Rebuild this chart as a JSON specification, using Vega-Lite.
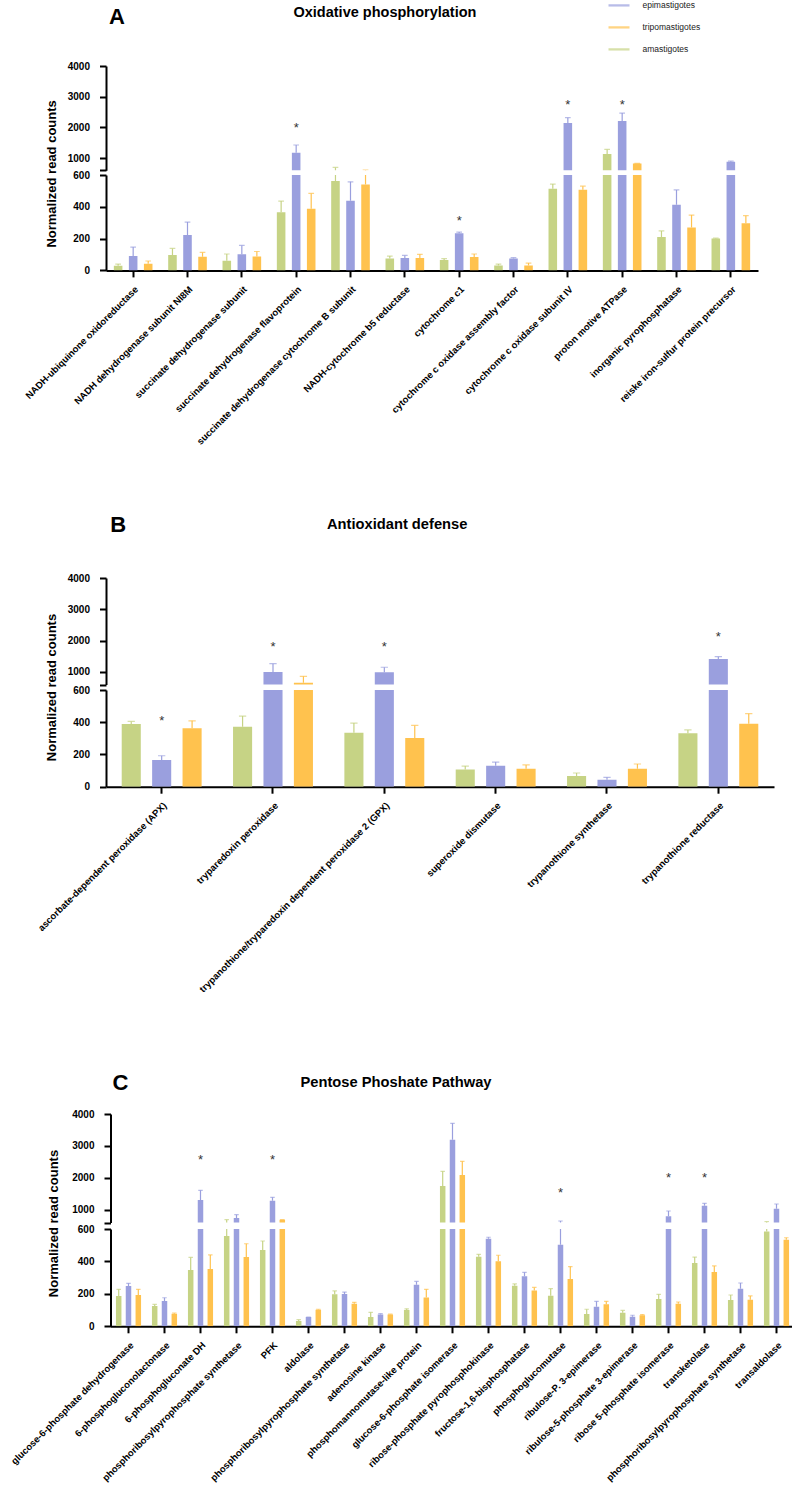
{
  "$schema": "https://vega.github.io/schema/vega-lite/v6.json",
  "padding": {"left": 8, "top": 0, "right": 0, "bottom": 0},
  "background": "white",
  "autosize": {"type": "pad"},
  "config": {
    "font": "Liberation Sans",
    "view": {"stroke": null},
    "axis": {"domainColor": "#000", "domainWidth": 2, "tickColor": "#000", "tickWidth": 2, "tickSize": 6.5, "labelColor": "#000", "labelFont": "Liberation Sans", "labelFontWeight": "bold", "labelFontSize": 10, "grid": false, "titleFont": "Liberation Sans", "titleFontWeight": "bold", "titleFontSize": 13, "titleColor": "#000"},
    "axisX": {"labelAngle": -45, "labelFontSize": 9.5, "labelPadding": 7, "labelLimit": 400},
    "axisY": {"labelPadding": 10},
    "legend": {"orient": "none", "legendX": 508, "legendY": -65.6, "symbolType": "M-2.1,-0.23L2.1,-0.23L2.1,0.23L-2.1,0.23Z", "symbolSize": 100, "symbolStrokeWidth": 0, "labelFontSize": 8.5, "labelFont": "Liberation Sans", "labelColor": "#222", "rowPadding": 12, "labelOffset": 18.5},
    "title": {"font": "Liberation Sans", "fontWeight": "bold", "color": "#000", "frame": "group", "anchor": "start", "baseline": "alphabetic"}
  },
  "resolve": {"scale": {"x": "independent", "xOffset": "independent", "y": "independent"}, "axis": {"x": "independent", "y": "independent"}},
  "datasets": {
    "A": [
      {"g": "01|NADH-ubiquinone oxidoreductase", "s": "amastigotes", "v": 30, "e": 40},
      {"g": "01|NADH-ubiquinone oxidoreductase", "s": "epimastigotes", "v": 90, "e": 147},
      {"g": "01|NADH-ubiquinone oxidoreductase", "s": "tripomastigotes", "v": 42, "e": 59},
      {"g": "02|NADH dehydrogenase subunit NI8M", "s": "amastigotes", "v": 97, "e": 138},
      {"g": "02|NADH dehydrogenase subunit NI8M", "s": "epimastigotes", "v": 222, "e": 304},
      {"g": "02|NADH dehydrogenase subunit NI8M", "s": "tripomastigotes", "v": 86, "e": 113},
      {"g": "03|succinate dehydrogenase subunit", "s": "amastigotes", "v": 61, "e": 103},
      {"g": "03|succinate dehydrogenase subunit", "s": "epimastigotes", "v": 101, "e": 157},
      {"g": "03|succinate dehydrogenase subunit", "s": "tripomastigotes", "v": 87, "e": 119},
      {"g": "04|succinate dehydrogenase flavoprotein", "s": "amastigotes", "v": 365, "e": 436},
      {"g": "04|succinate dehydrogenase flavoprotein", "s": "epimastigotes", "v": 1173, "e": 1424, "star": 2076},
      {"g": "04|succinate dehydrogenase flavoprotein", "s": "tripomastigotes", "v": 388, "e": 484},
      {"g": "05|succinate dehydrogenase cytochrome B subunit", "s": "amastigotes", "v": 562, "e": 695},
      {"g": "05|succinate dehydrogenase cytochrome B subunit", "s": "epimastigotes", "v": 438, "e": 557},
      {"g": "05|succinate dehydrogenase cytochrome B subunit", "s": "tripomastigotes", "v": 541, "e": 610},
      {"g": "06|NADH-cytochrome b5 reductase", "s": "amastigotes", "v": 75, "e": 90},
      {"g": "06|NADH-cytochrome b5 reductase", "s": "epimastigotes", "v": 78, "e": 94},
      {"g": "06|NADH-cytochrome b5 reductase", "s": "tripomastigotes", "v": 78, "e": 101},
      {"g": "07|cytochrome c1", "s": "amastigotes", "v": 65, "e": 74},
      {"g": "07|cytochrome c1", "s": "epimastigotes", "v": 233, "e": 241, "star": 330},
      {"g": "07|cytochrome c1", "s": "tripomastigotes", "v": 84, "e": 103},
      {"g": "08|cytochrome c oxidase assembly factor", "s": "amastigotes", "v": 31, "e": 40},
      {"g": "08|cytochrome c oxidase assembly factor", "s": "epimastigotes", "v": 75, "e": 80},
      {"g": "08|cytochrome c oxidase assembly factor", "s": "tripomastigotes", "v": 31, "e": 46},
      {"g": "09|cytochrome c oxidase subunit IV", "s": "amastigotes", "v": 513, "e": 543},
      {"g": "09|cytochrome c oxidase subunit IV", "s": "epimastigotes", "v": 2141, "e": 2314, "star": 2835},
      {"g": "09|cytochrome c oxidase subunit IV", "s": "tripomastigotes", "v": 507, "e": 530},
      {"g": "10|proton motive ATPase", "s": "amastigotes", "v": 1130, "e": 1280},
      {"g": "10|proton motive ATPase", "s": "epimastigotes", "v": 2206, "e": 2467, "star": 2835},
      {"g": "10|proton motive ATPase", "s": "tripomastigotes", "v": 824, "e": 824},
      {"g": "11|inorganic pyrophosphatase", "s": "amastigotes", "v": 210, "e": 248},
      {"g": "11|inorganic pyrophosphatase", "s": "epimastigotes", "v": 413, "e": 506},
      {"g": "11|inorganic pyrophosphatase", "s": "tripomastigotes", "v": 270, "e": 348},
      {"g": "12|reiske iron-sulfur protein precursor", "s": "amastigotes", "v": 201, "e": 203},
      {"g": "12|reiske iron-sulfur protein precursor", "s": "epimastigotes", "v": 879, "e": 902},
      {"g": "12|reiske iron-sulfur protein precursor", "s": "tripomastigotes", "v": 296, "e": 344}
    ],
    "B": [
      {"g": "1|ascorbate-dependent peroxidase (APX)", "s": "amastigotes", "v": 389, "e": 405},
      {"g": "1|ascorbate-dependent peroxidase (APX)", "s": "epimastigotes", "v": 166, "e": 192, "star": 428},
      {"g": "1|ascorbate-dependent peroxidase (APX)", "s": "tripomastigotes", "v": 362, "e": 409},
      {"g": "2|tryparedoxin peroxidase", "s": "amastigotes", "v": 372, "e": 438},
      {"g": "2|tryparedoxin peroxidase", "s": "epimastigotes", "v": 1000, "e": 1265, "star": 1904},
      {"g": "2|tryparedoxin peroxidase", "s": "tripomastigotes", "v": 657, "e": 862},
      {"g": "3|trypanothione/tryparedoxin dependent peroxidase 2 (GPX)", "s": "amastigotes", "v": 335, "e": 395},
      {"g": "3|trypanothione/tryparedoxin dependent peroxidase 2 (GPX)", "s": "epimastigotes", "v": 990, "e": 1150, "star": 1904},
      {"g": "3|trypanothione/tryparedoxin dependent peroxidase 2 (GPX)", "s": "tripomastigotes", "v": 302, "e": 380},
      {"g": "4|superoxide dismutase", "s": "amastigotes", "v": 107, "e": 128},
      {"g": "4|superoxide dismutase", "s": "epimastigotes", "v": 130, "e": 153},
      {"g": "4|superoxide dismutase", "s": "tripomastigotes", "v": 112, "e": 135},
      {"g": "5|trypanothione synthetase", "s": "amastigotes", "v": 66, "e": 85},
      {"g": "5|trypanothione synthetase", "s": "epimastigotes", "v": 43, "e": 58},
      {"g": "5|trypanothione synthetase", "s": "tripomastigotes", "v": 112, "e": 141},
      {"g": "6|trypanothione reductase", "s": "amastigotes", "v": 331, "e": 352},
      {"g": "6|trypanothione reductase", "s": "epimastigotes", "v": 1415, "e": 1489, "star": 2224},
      {"g": "6|trypanothione reductase", "s": "tripomastigotes", "v": 391, "e": 453}
    ],
    "C": [
      {"g": "01|glucose-6-phosphate dehydrogenase", "s": "amastigotes", "v": 187, "e": 228},
      {"g": "01|glucose-6-phosphate dehydrogenase", "s": "epimastigotes", "v": 248, "e": 265},
      {"g": "01|glucose-6-phosphate dehydrogenase", "s": "tripomastigotes", "v": 193, "e": 228},
      {"g": "02|6-phosphogluconolactonase", "s": "amastigotes", "v": 125, "e": 135},
      {"g": "02|6-phosphogluconolactonase", "s": "epimastigotes", "v": 156, "e": 176},
      {"g": "02|6-phosphogluconolactonase", "s": "tripomastigotes", "v": 78, "e": 82},
      {"g": "03|6-phosphogluconate DH", "s": "amastigotes", "v": 347, "e": 425},
      {"g": "03|6-phosphogluconate DH", "s": "epimastigotes", "v": 1304, "e": 1608, "star": 2662},
      {"g": "03|6-phosphogluconate DH", "s": "tripomastigotes", "v": 353, "e": 440},
      {"g": "04|phosphoribosylpyrophosphate synthetase", "s": "amastigotes", "v": 557, "e": 688},
      {"g": "04|phosphoribosylpyrophosphate synthetase", "s": "epimastigotes", "v": 741, "e": 845},
      {"g": "04|phosphoribosylpyrophosphate synthetase", "s": "tripomastigotes", "v": 427, "e": 509},
      {"g": "05|PFK", "s": "amastigotes", "v": 470, "e": 526},
      {"g": "05|PFK", "s": "epimastigotes", "v": 1282, "e": 1389, "star": 2662},
      {"g": "05|PFK", "s": "tripomastigotes", "v": 688, "e": 688},
      {"g": "06|aldolase", "s": "amastigotes", "v": 33, "e": 41},
      {"g": "06|aldolase", "s": "epimastigotes", "v": 57, "e": 57},
      {"g": "06|aldolase", "s": "tripomastigotes", "v": 102, "e": 105},
      {"g": "07|phosphoribosylpyrophosphate synthetase", "s": "amastigotes", "v": 197, "e": 218},
      {"g": "07|phosphoribosylpyrophosphate synthetase", "s": "epimastigotes", "v": 199, "e": 211},
      {"g": "07|phosphoribosylpyrophosphate synthetase", "s": "tripomastigotes", "v": 139, "e": 148},
      {"g": "08|adenosine kinase", "s": "amastigotes", "v": 57, "e": 86},
      {"g": "08|adenosine kinase", "s": "epimastigotes", "v": 72, "e": 78},
      {"g": "08|adenosine kinase", "s": "tripomastigotes", "v": 72, "e": 75},
      {"g": "09|phosphomannomutase-like protein", "s": "amastigotes", "v": 100, "e": 108},
      {"g": "09|phosphomannomutase-like protein", "s": "epimastigotes", "v": 256, "e": 277},
      {"g": "09|phosphomannomutase-like protein", "s": "tripomastigotes", "v": 177, "e": 228},
      {"g": "10|glucose-6-phosphate isomerase", "s": "amastigotes", "v": 1743, "e": 2204},
      {"g": "10|glucose-6-phosphate isomerase", "s": "epimastigotes", "v": 3195, "e": 3709},
      {"g": "10|glucose-6-phosphate isomerase", "s": "tripomastigotes", "v": 2088, "e": 2517},
      {"g": "11|ribose-phosphate pyrophosphokinase", "s": "amastigotes", "v": 429, "e": 444},
      {"g": "11|ribose-phosphate pyrophosphokinase", "s": "epimastigotes", "v": 540, "e": 549},
      {"g": "11|ribose-phosphate pyrophosphokinase", "s": "tripomastigotes", "v": 401, "e": 438},
      {"g": "12|fructose-1,6-bisphosphatase", "s": "amastigotes", "v": 250, "e": 261},
      {"g": "12|fructose-1,6-bisphosphatase", "s": "epimastigotes", "v": 308, "e": 333},
      {"g": "12|fructose-1,6-bisphosphatase", "s": "tripomastigotes", "v": 220, "e": 240},
      {"g": "13|phosphoglucomutase", "s": "amastigotes", "v": 189, "e": 232},
      {"g": "13|phosphoglucomutase", "s": "epimastigotes", "v": 503, "e": 647, "star": 1618},
      {"g": "13|phosphoglucomutase", "s": "tripomastigotes", "v": 292, "e": 368},
      {"g": "14|ribulose-P. 3-epimerase", "s": "amastigotes", "v": 76, "e": 105},
      {"g": "14|ribulose-P. 3-epimerase", "s": "epimastigotes", "v": 121, "e": 154},
      {"g": "14|ribulose-P. 3-epimerase", "s": "tripomastigotes", "v": 136, "e": 154},
      {"g": "15|ribulose-5-phosphate 3-epimerase", "s": "amastigotes", "v": 84, "e": 98},
      {"g": "15|ribulose-5-phosphate 3-epimerase", "s": "epimastigotes", "v": 59, "e": 68},
      {"g": "15|ribulose-5-phosphate 3-epimerase", "s": "tripomastigotes", "v": 68, "e": 72},
      {"g": "16|ribose 5-phosphate isomerase", "s": "amastigotes", "v": 168, "e": 197},
      {"g": "16|ribose 5-phosphate isomerase", "s": "epimastigotes", "v": 794, "e": 960, "star": 2088},
      {"g": "16|ribose 5-phosphate isomerase", "s": "tripomastigotes", "v": 139, "e": 150},
      {"g": "17|transketolase", "s": "amastigotes", "v": 390, "e": 427},
      {"g": "17|transketolase", "s": "epimastigotes", "v": 1125, "e": 1200, "star": 2088},
      {"g": "17|transketolase", "s": "tripomastigotes", "v": 335, "e": 372},
      {"g": "18|phosphoribosylpyrophosphate synthetase", "s": "amastigotes", "v": 162, "e": 193},
      {"g": "18|phosphoribosylpyrophosphate synthetase", "s": "epimastigotes", "v": 232, "e": 267},
      {"g": "18|phosphoribosylpyrophosphate synthetase", "s": "tripomastigotes", "v": 164, "e": 187},
      {"g": "19|transaldolase", "s": "amastigotes", "v": 585, "e": 625},
      {"g": "19|transaldolase", "s": "epimastigotes", "v": 1031, "e": 1179},
      {"g": "19|transaldolase", "s": "tripomastigotes", "v": 534, "e": 546}
    ]
  },
  "bounds": "flush",
  "spacing": 0,
  "vconcat": [
    {
      "width": 652, "height": 104.3,
      "data": {"name": "A"},
      "title": {"text": "Oxidative phosphorylation", "fontSize": 14.5, "dx": 187.5, "offset": 40.6},
      "encoding": {
        "x": {"field": "g", "type": "nominal", "axis": null, "scale": {"paddingInner": 0.17, "paddingOuter": 0.085}},
        "xOffset": {"field": "s", "type": "nominal", "sort": ["amastigotes", "epimastigotes", "tripomastigotes"], "scale": {"paddingInner": 0.43, "paddingOuter": 0.215}},
        "color": {"field": "s", "type": "nominal", "title": null, "scale": {"domain": ["epimastigotes", "tripomastigotes", "amastigotes"], "range": ["#9A9FDE", "#FFC24E", "#C6D385"]}}
      },
      "layer": [
        {"mark": {"type": "bar", "clip": true}, "encoding": {"y": {"field": "v", "type": "quantitative", "scale": {"domain": [600, 4000], "nice": false, "zero": false}, "axis": {"title": null, "values": [600, 1000, 2000, 3000, 4000], "format": "d", "labelExpr": "datum.value == 600 ? '' : datum.label"}}}},
        {"mark": {"type": "rule", "clip": true, "strokeWidth": 1.2}, "encoding": {"y": {"field": "v", "type": "quantitative", "scale": {"domain": [600, 4000], "nice": false, "zero": false}, "axis": {"title": null, "values": [600, 1000, 2000, 3000, 4000], "format": "d", "labelExpr": "datum.value == 600 ? '' : datum.label"}}, "y2": {"field": "e"}}},
        {"mark": {"type": "tick", "clip": true, "thickness": 1.2, "size": 5.7}, "encoding": {"y": {"field": "e", "type": "quantitative", "scale": {"domain": [600, 4000], "nice": false, "zero": false}, "axis": {"title": null, "values": [600, 1000, 2000, 3000, 4000], "format": "d", "labelExpr": "datum.value == 600 ? '' : datum.label"}}}},
        {"transform": [{"filter": "datum.star >= 600"}], "mark": {"type": "text", "text": "*", "fontSize": 13, "baseline": "alphabetic", "dy": 7}, "encoding": {"y": {"field": "star", "type": "quantitative", "scale": {"domain": [600, 4000], "nice": false, "zero": false}, "axis": {"title": null, "values": [600, 1000, 2000, 3000, 4000], "format": "d", "labelExpr": "datum.value == 600 ? '' : datum.label"}}, "color": {"value": "#333"}}}
      ]
    },
    {"width": 1, "height": 3.7, "data": {"values": []}, "mark": "point"},
    {
      "width": 652, "height": 95.4,
      "data": {"name": "A"},
      "title": {"text": "A", "fontSize": 22, "dx": 3, "offset": 70.3},
      "encoding": {
        "x": {"field": "g", "type": "nominal", "title": null, "scale": {"paddingInner": 0.17, "paddingOuter": 0.085}, "axis": {"labelExpr": "split(datum.label, '|')[1]"}},
        "xOffset": {"field": "s", "type": "nominal", "sort": ["amastigotes", "epimastigotes", "tripomastigotes"], "scale": {"paddingInner": 0.43, "paddingOuter": 0.215}},
        "color": {"field": "s", "type": "nominal", "title": null, "scale": {"domain": ["epimastigotes", "tripomastigotes", "amastigotes"], "range": ["#9A9FDE", "#FFC24E", "#C6D385"]}}
      },
      "layer": [
        {"mark": {"type": "bar", "clip": true}, "encoding": {"y": {"field": "v", "type": "quantitative", "scale": {"domain": [0, 600], "nice": false}, "axis": {"title": "Normalized read counts", "values": [0, 200, 400, 600], "format": "d", "titleX": -50.7, "titleY": -1.6, "titleBaseline": "alphabetic", "titleAlign": "center"}}}},
        {"mark": {"type": "rule", "clip": true, "strokeWidth": 1.2}, "encoding": {"y": {"field": "v", "type": "quantitative", "scale": {"domain": [0, 600], "nice": false}, "axis": {"title": "Normalized read counts", "values": [0, 200, 400, 600], "format": "d", "titleX": -50.7, "titleY": -1.6, "titleBaseline": "alphabetic", "titleAlign": "center"}}, "y2": {"field": "e"}}},
        {"mark": {"type": "tick", "clip": true, "thickness": 1.2, "size": 5.7}, "encoding": {"y": {"field": "e", "type": "quantitative", "scale": {"domain": [0, 600], "nice": false}, "axis": {"title": "Normalized read counts", "values": [0, 200, 400, 600], "format": "d", "titleX": -50.7, "titleY": -1.6, "titleBaseline": "alphabetic", "titleAlign": "center"}}}},
        {"transform": [{"filter": "datum.star != null && datum.star < 600"}], "mark": {"type": "text", "text": "*", "fontSize": 13, "baseline": "alphabetic", "dy": 7}, "encoding": {"y": {"field": "star", "type": "quantitative", "scale": {"domain": [0, 600], "nice": false}, "axis": {"title": "Normalized read counts", "values": [0, 200, 400, 600], "format": "d", "titleX": -50.7, "titleY": -1.6, "titleBaseline": "alphabetic", "titleAlign": "center"}}, "color": {"value": "#333"}}}
      ]
    },
    {"width": 1, "height": 306.3, "data": {"values": []}, "mark": "point"},
    {
      "width": 668, "height": 106.5,
      "data": {"name": "B"},
      "title": {"text": "Antioxidant defense", "fontSize": 14.7, "dx": 221, "offset": 41},
      "encoding": {
        "x": {"field": "g", "type": "nominal", "axis": null, "scale": {"paddingInner": 0.18, "paddingOuter": 0.09}},
        "xOffset": {"field": "s", "type": "nominal", "sort": ["amastigotes", "epimastigotes", "tripomastigotes"], "scale": {"paddingInner": 0.373, "paddingOuter": 0.187}},
        "color": {"field": "s", "type": "nominal", "title": null, "scale": {"domain": ["epimastigotes", "tripomastigotes", "amastigotes"], "range": ["#9A9FDE", "#FFC24E", "#C6D385"]}}
      },
      "layer": [
        {"mark": {"type": "bar", "clip": true}, "encoding": {"y": {"field": "v", "type": "quantitative", "scale": {"domain": [600, 4000], "nice": false, "zero": false}, "axis": {"title": null, "values": [600, 1000, 2000, 3000, 4000], "format": "d", "labelExpr": "datum.value == 600 ? '' : datum.label"}}}},
        {"mark": {"type": "rule", "clip": true, "strokeWidth": 1.2}, "encoding": {"y": {"field": "v", "type": "quantitative", "scale": {"domain": [600, 4000], "nice": false, "zero": false}, "axis": {"title": null, "values": [600, 1000, 2000, 3000, 4000], "format": "d", "labelExpr": "datum.value == 600 ? '' : datum.label"}}, "y2": {"field": "e"}}},
        {"mark": {"type": "tick", "clip": true, "thickness": 1.2, "size": 7.3}, "encoding": {"y": {"field": "e", "type": "quantitative", "scale": {"domain": [600, 4000], "nice": false, "zero": false}, "axis": {"title": null, "values": [600, 1000, 2000, 3000, 4000], "format": "d", "labelExpr": "datum.value == 600 ? '' : datum.label"}}}},
        {"transform": [{"filter": "datum.star >= 600"}], "mark": {"type": "text", "text": "*", "fontSize": 13, "baseline": "alphabetic", "dy": 7}, "encoding": {"y": {"field": "star", "type": "quantitative", "scale": {"domain": [600, 4000], "nice": false, "zero": false}, "axis": {"title": null, "values": [600, 1000, 2000, 3000, 4000], "format": "d", "labelExpr": "datum.value == 600 ? '' : datum.label"}}, "color": {"value": "#333"}}}
      ]
    },
    {"width": 1, "height": 4.8, "data": {"values": []}, "mark": "point"},
    {
      "width": 668, "height": 96.7,
      "data": {"name": "B"},
      "title": {"text": "B", "fontSize": 22, "dx": 4.3, "offset": 75.9},
      "encoding": {
        "x": {"field": "g", "type": "nominal", "title": null, "scale": {"paddingInner": 0.18, "paddingOuter": 0.09}, "axis": {"labelExpr": "split(datum.label, '|')[1]"}},
        "xOffset": {"field": "s", "type": "nominal", "sort": ["amastigotes", "epimastigotes", "tripomastigotes"], "scale": {"paddingInner": 0.373, "paddingOuter": 0.187}},
        "color": {"field": "s", "type": "nominal", "title": null, "scale": {"domain": ["epimastigotes", "tripomastigotes", "amastigotes"], "range": ["#9A9FDE", "#FFC24E", "#C6D385"]}}
      },
      "layer": [
        {"mark": {"type": "bar", "clip": true}, "encoding": {"y": {"field": "v", "type": "quantitative", "scale": {"domain": [0, 600], "nice": false}, "axis": {"title": "Normalized read counts", "values": [0, 200, 400, 600], "format": "d", "titleX": -50.4, "titleY": -3, "titleBaseline": "alphabetic", "titleAlign": "center"}}}},
        {"mark": {"type": "rule", "clip": true, "strokeWidth": 1.2}, "encoding": {"y": {"field": "v", "type": "quantitative", "scale": {"domain": [0, 600], "nice": false}, "axis": {"title": "Normalized read counts", "values": [0, 200, 400, 600], "format": "d", "titleX": -50.4, "titleY": -3, "titleBaseline": "alphabetic", "titleAlign": "center"}}, "y2": {"field": "e"}}},
        {"mark": {"type": "tick", "clip": true, "thickness": 1.2, "size": 7.3}, "encoding": {"y": {"field": "e", "type": "quantitative", "scale": {"domain": [0, 600], "nice": false}, "axis": {"title": "Normalized read counts", "values": [0, 200, 400, 600], "format": "d", "titleX": -50.4, "titleY": -3, "titleBaseline": "alphabetic", "titleAlign": "center"}}}},
        {"transform": [{"filter": "datum.star != null && datum.star < 600"}], "mark": {"type": "text", "text": "*", "fontSize": 13, "baseline": "alphabetic", "dy": 7}, "encoding": {"y": {"field": "star", "type": "quantitative", "scale": {"domain": [0, 600], "nice": false}, "axis": {"title": "Normalized read counts", "values": [0, 200, 400, 600], "format": "d", "titleX": -50.4, "titleY": -3, "titleBaseline": "alphabetic", "titleAlign": "center"}}, "color": {"value": "#333"}}}
      ]
    },
    {"width": 1, "height": 327, "data": {"values": []}, "mark": "point"},
    {
      "width": 688.5, "height": 108.5,
      "data": {"name": "C"},
      "title": {"text": "Pentose Phoshate Pathway", "fontSize": 14.7, "dx": 194.5, "offset": 19.8},
      "encoding": {
        "x": {"field": "g", "type": "nominal", "axis": null, "scale": {"range": [4.5, 688.5], "paddingInner": 0.183, "paddingOuter": 0.0915}},
        "xOffset": {"field": "s", "type": "nominal", "sort": ["amastigotes", "epimastigotes", "tripomastigotes"], "scale": {"paddingInner": 0.44, "paddingOuter": 0.22}},
        "color": {"field": "s", "type": "nominal", "title": null, "scale": {"domain": ["epimastigotes", "tripomastigotes", "amastigotes"], "range": ["#9A9FDE", "#FFC24E", "#C6D385"]}}
      },
      "layer": [
        {"mark": {"type": "bar", "clip": true}, "encoding": {"y": {"field": "v", "type": "quantitative", "scale": {"domain": [600, 4000], "nice": false, "zero": false}, "axis": {"title": null, "offset": -4.5, "values": [600, 1000, 2000, 3000, 4000], "format": "d", "labelExpr": "datum.value == 600 ? '' : datum.label"}}}},
        {"mark": {"type": "rule", "clip": true, "strokeWidth": 1.2}, "encoding": {"y": {"field": "v", "type": "quantitative", "scale": {"domain": [600, 4000], "nice": false, "zero": false}, "axis": {"title": null, "offset": -4.5, "values": [600, 1000, 2000, 3000, 4000], "format": "d", "labelExpr": "datum.value == 600 ? '' : datum.label"}}, "y2": {"field": "e"}}},
        {"mark": {"type": "tick", "clip": true, "thickness": 1.2, "size": 4.5}, "encoding": {"y": {"field": "e", "type": "quantitative", "scale": {"domain": [600, 4000], "nice": false, "zero": false}, "axis": {"title": null, "offset": -4.5, "values": [600, 1000, 2000, 3000, 4000], "format": "d", "labelExpr": "datum.value == 600 ? '' : datum.label"}}}},
        {"transform": [{"filter": "datum.star >= 600"}], "mark": {"type": "text", "text": "*", "fontSize": 13, "baseline": "alphabetic", "dy": 7}, "encoding": {"y": {"field": "star", "type": "quantitative", "scale": {"domain": [600, 4000], "nice": false, "zero": false}, "axis": {"title": null, "offset": -4.5, "values": [600, 1000, 2000, 3000, 4000], "format": "d", "labelExpr": "datum.value == 600 ? '' : datum.label"}}, "color": {"value": "#333"}}}
      ]
    },
    {"width": 1, "height": 5.5, "data": {"values": []}, "mark": "point"},
    {
      "width": 688.5, "height": 97.3,
      "data": {"name": "C"},
      "title": {"text": "C", "fontSize": 22, "dx": 6.5, "offset": 54},
      "encoding": {
        "x": {"field": "g", "type": "nominal", "title": null, "scale": {"range": [4.5, 688.5], "paddingInner": 0.183, "paddingOuter": 0.0915}, "axis": {"labelExpr": "split(datum.label, '|')[1]"}},
        "xOffset": {"field": "s", "type": "nominal", "sort": ["amastigotes", "epimastigotes", "tripomastigotes"], "scale": {"paddingInner": 0.44, "paddingOuter": 0.22}},
        "color": {"field": "s", "type": "nominal", "title": null, "scale": {"domain": ["epimastigotes", "tripomastigotes", "amastigotes"], "range": ["#9A9FDE", "#FFC24E", "#C6D385"]}}
      },
      "layer": [
        {"mark": {"type": "bar", "clip": true}, "encoding": {"y": {"field": "v", "type": "quantitative", "scale": {"domain": [0, 600], "nice": false}, "axis": {"title": "Normalized read counts", "offset": -4.5, "values": [0, 200, 400, 600], "format": "d", "titleX": -53.3, "titleY": -6, "titleBaseline": "alphabetic", "titleAlign": "center"}}}},
        {"mark": {"type": "rule", "clip": true, "strokeWidth": 1.2}, "encoding": {"y": {"field": "v", "type": "quantitative", "scale": {"domain": [0, 600], "nice": false}, "axis": {"title": "Normalized read counts", "offset": -4.5, "values": [0, 200, 400, 600], "format": "d", "titleX": -53.3, "titleY": -6, "titleBaseline": "alphabetic", "titleAlign": "center"}}, "y2": {"field": "e"}}},
        {"mark": {"type": "tick", "clip": true, "thickness": 1.2, "size": 4.5}, "encoding": {"y": {"field": "e", "type": "quantitative", "scale": {"domain": [0, 600], "nice": false}, "axis": {"title": "Normalized read counts", "offset": -4.5, "values": [0, 200, 400, 600], "format": "d", "titleX": -53.3, "titleY": -6, "titleBaseline": "alphabetic", "titleAlign": "center"}}}},
        {"transform": [{"filter": "datum.star != null && datum.star < 600"}], "mark": {"type": "text", "text": "*", "fontSize": 13, "baseline": "alphabetic", "dy": 7}, "encoding": {"y": {"field": "star", "type": "quantitative", "scale": {"domain": [0, 600], "nice": false}, "axis": {"title": "Normalized read counts", "offset": -4.5, "values": [0, 200, 400, 600], "format": "d", "titleX": -53.3, "titleY": -6, "titleBaseline": "alphabetic", "titleAlign": "center"}}, "color": {"value": "#333"}}}
      ]
    }
  ]
}
